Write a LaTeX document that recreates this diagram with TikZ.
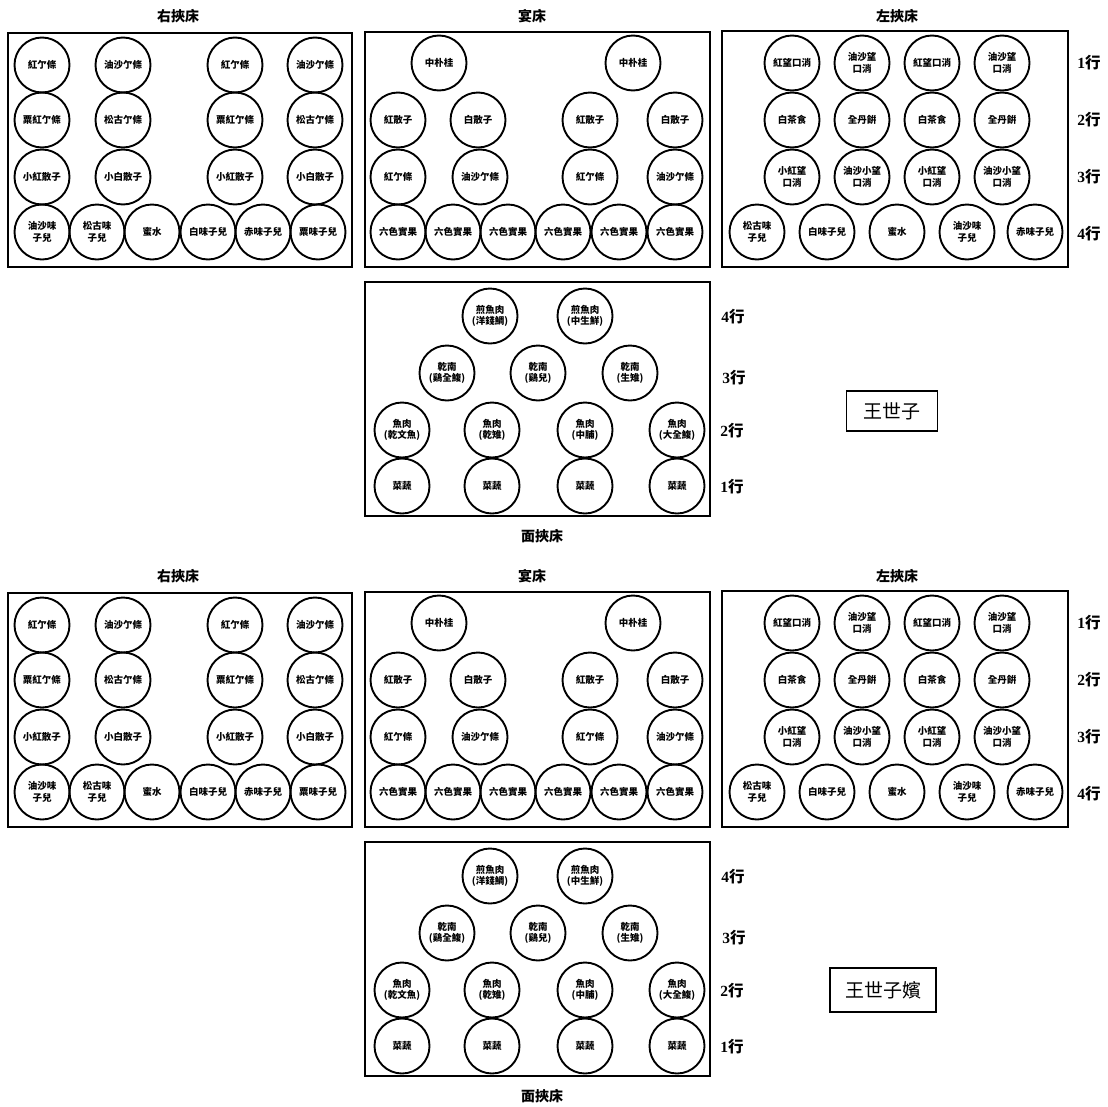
\documentclass[tikz,border=0pt]{standalone}
\usepackage{fontspec}
\setmainfont{Liberation Serif}
\newfontfamily\cjk{Noto Sans CJK TC}
\newcommand\dish[4]{\node[dish] (#1) at (#2,#3) {#4};}
\newcommand\rowlab[4]{\node[rowlab] (#1) at (#2,#3) {\textbf{#4}{\cjk\bfseries 行}};}
\tikzset{
  dish/.style={circle, draw, line width=1.9pt, minimum size=55pt, inner sep=0pt,
    align=center, font=\cjk\bfseries\fontsize{9.5}{11.5}\selectfont},
  tablebox/.style={draw, line width=2pt},
  ttl/.style={font=\cjk\bfseries\fontsize{14}{15}\selectfont},
  rowlab/.style={font=\fontsize{15.5}{16}\selectfont, inner sep=0pt},
  namebox/.style={draw, line width=1.6pt, font=\cjk\fontsize{19}{20}\selectfont, inner sep=0pt}
}
\newcommand\banquet{%
  % right side table
  \node[ttl] (rtt) at (178,16) {右挾床};
  \draw[tablebox] (8,33) rectangle (352,267);
  \dish{r11}{42}{65}{紅亇條}
  \dish{r12}{123}{65}{油沙亇條}
  \dish{r13}{235}{65}{紅亇條}
  \dish{r14}{315}{65}{油沙亇條}
  \dish{r21}{42}{120}{粟紅亇條}
  \dish{r22}{123}{120}{松古亇條}
  \dish{r23}{235}{120}{粟紅亇條}
  \dish{r24}{315}{120}{松古亇條}
  \dish{r31}{42}{177}{小紅散子}
  \dish{r32}{123}{177}{小白散子}
  \dish{r33}{235}{177}{小紅散子}
  \dish{r34}{315}{177}{小白散子}
  \dish{r41}{42}{232}{油沙味\\子兒}
  \dish{r42}{97}{232}{松古味\\子兒}
  \dish{r43}{152}{232}{蜜水}
  \dish{r44}{208}{232}{白味子兒}
  \dish{r45}{263}{232}{赤味子兒}
  \dish{r46}{318}{232}{粟味子兒}
  % main table
  \node[ttl] (mtt) at (532,16) {宴床};
  \draw[tablebox] (365,32) rectangle (710,267);
  \dish{m11}{439}{63}{中朴桂}
  \dish{m12}{633}{63}{中朴桂}
  \dish{m21}{398}{120}{紅散子}
  \dish{m22}{478}{120}{白散子}
  \dish{m23}{590}{120}{紅散子}
  \dish{m24}{675}{120}{白散子}
  \dish{m31}{398}{177}{紅亇條}
  \dish{m32}{480}{177}{油沙亇條}
  \dish{m33}{590}{177}{紅亇條}
  \dish{m34}{675}{177}{油沙亇條}
  \dish{m41}{398}{232}{六色實果}
  \dish{m42}{453}{232}{六色實果}
  \dish{m43}{508}{232}{六色實果}
  \dish{m44}{563}{232}{六色實果}
  \dish{m45}{619}{232}{六色實果}
  \dish{m46}{675}{232}{六色實果}
  % left side table
  \node[ttl] (ltt) at (897,16) {左挾床};
  \draw[tablebox] (722,31) rectangle (1068,267);
  \dish{l11}{792}{63}{紅望口消}
  \dish{l12}{862}{63}{油沙望\\口消}
  \dish{l13}{932}{63}{紅望口消}
  \dish{l14}{1002}{63}{油沙望\\口消}
  \dish{l21}{792}{120}{白茶食}
  \dish{l22}{862}{120}{全丹餠}
  \dish{l23}{932}{120}{白茶食}
  \dish{l24}{1002}{120}{全丹餠}
  \dish{l31}{792}{177}{小紅望\\口消}
  \dish{l32}{862}{177}{油沙小望\\口消}
  \dish{l33}{932}{177}{小紅望\\口消}
  \dish{l34}{1002}{177}{油沙小望\\口消}
  \dish{l41}{757}{232}{松古味\\子兒}
  \dish{l42}{827}{232}{白味子兒}
  \dish{l43}{897}{232}{蜜水}
  \dish{l44}{967}{232}{油沙味\\子兒}
  \dish{l45}{1035}{232}{赤味子兒}
  \rowlab{lr1}{1089}{63}{1}
  \rowlab{lr2}{1089}{120}{2}
  \rowlab{lr3}{1089}{177}{3}
  \rowlab{lr4}{1089}{234}{4}
  % front table
  \draw[tablebox] (365,282) rectangle (710,516);
  \node[ttl] (ftt) at (542,536) {面挾床};
  \dish{f41}{490}{316}{煎魚肉\\(洋錢鯛)}
  \dish{f42}{585}{316}{煎魚肉\\(中生鮮)}
  \dish{f31}{447}{373}{乾南\\(鷄全鰒)}
  \dish{f32}{538}{373}{乾南\\(鷄兒)}
  \dish{f33}{630}{373}{乾南\\(生雉)}
  \dish{f21}{402}{430}{魚肉\\(乾文魚)}
  \dish{f22}{492}{430}{魚肉\\(乾雉)}
  \dish{f23}{585}{430}{魚肉\\(中脯)}
  \dish{f24}{677}{430}{魚肉\\(大全鰒)}
  \dish{f11}{402}{486}{菜蔬}
  \dish{f12}{492}{486}{菜蔬}
  \dish{f13}{585}{486}{菜蔬}
  \dish{f14}{677}{486}{菜蔬}
  \rowlab{fr4}{733}{317}{4}
  \rowlab{fr3}{734}{378}{3}
  \rowlab{fr2}{732}{431}{2}
  \rowlab{fr1}{732}{487}{1}
}
\begin{document}
\begin{tikzpicture}[x=1pt,y=-1pt]
\useasboundingbox (0,0) rectangle (1108,1106);
\begin{scope}[name prefix=a-]
  \banquet
  \node[namebox, minimum width=91pt, minimum height=40pt] (who) at (892,411) {王世子};
\end{scope}
\begin{scope}[shift={(0,560)}, name prefix=b-]
  \banquet
\end{scope}
\node[namebox, minimum width=106pt, minimum height=44pt] (whob) at (883,990) {王世子嬪};
\end{tikzpicture}
\end{document}
